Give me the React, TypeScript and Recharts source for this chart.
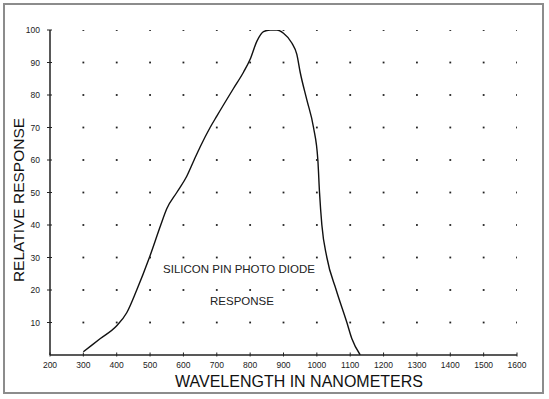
import React from 'react';
import { ComposedChart, Line, Scatter, XAxis, YAxis } from 'recharts';

const wavelengths = [300, 350, 400, 430, 460, 498, 532, 550, 580, 610, 632, 650, 680, 700, 750, 780, 800, 820, 840, 860, 880, 900, 925, 940, 950, 970, 990, 1003, 1008, 1015, 1030, 1058, 1090, 1105, 1130];
const response = [1, 5, 9, 13, 20, 30, 40, 45, 50, 55, 60, 64, 70, 73.5, 82, 87, 91, 96.5, 99.5, 100, 100, 99, 96, 92.5, 87, 78.5, 70, 60, 50, 40, 30, 20, 10, 5, 0];

const xTicks = [200, 300, 400, 500, 600, 700, 800, 900, 1000, 1100, 1200, 1300, 1400, 1500, 1600];
const yTicks = [10, 20, 30, 40, 50, 60, 70, 80, 90, 100];

const curve = wavelengths.map((x, i) => ({ x, y: response[i] }));
const gridDots = xTicks.filter((x) => x > 200).flatMap((x) => yTicks.map((y) => ({ x, y })));

const FONT = '"Liberation Sans", Arial, sans-serif';

const YTick = (props: any) => {
  const { x, y, payload } = props;
  return (
    <g>
      <line x1={x - 3} x2={x + 2} y1={y} y2={y} stroke="#222" strokeWidth={1} />
      <text x={x - 10} y={y} dy={3} textAnchor="end" fontSize={8.5} fontFamily={FONT} fill="#222">
        {payload.value}
      </text>
    </g>
  );
};

const XTick = (props: any) => {
  const { x, y, payload } = props;
  return (
    <g>
      <line x1={x} x2={x} y1={y - 2.5} y2={y + 1.5} stroke="#222" strokeWidth={1} />
      <text x={x} y={y + 12.5} textAnchor="middle" fontSize={8.5} fontFamily={FONT} fill="#222">
        {payload.value}
      </text>
    </g>
  );
};

const Dot = (props: any) => {
  const { cx, cy } = props;
  return <rect x={cx - 0.9} y={cy - 0.9} width={1.8} height={1.8} fill="#222" />;
};

export default function App() {
  return (
    <div style={{ position: 'absolute', left: 0, top: 0, width: 549, height: 399, background: '#fff' }}>
      <div
        style={{
          position: 'absolute',
          left: 3,
          top: 3,
          width: 537,
          height: 387,
          border: '2px solid #8c8c8c',
        }}
      />
      <ComposedChart
        width={549}
        height={399}
        margin={{ top: 30, right: 32, bottom: 14, left: 10 }}
        style={{ position: 'absolute', left: 0, top: 0 }}
      >
        <XAxis
          type="number"
          dataKey="x"
          domain={[200, 1600]}
          ticks={xTicks}
          height={30}
          tickSize={0}
          tickMargin={0}
          tick={<XTick />}
          axisLine={{ stroke: '#222', strokeWidth: 1.5 }}
          tickLine={false}
          interval={0}
          allowDataOverflow
        />
        <YAxis
          type="number"
          domain={[0, 100]}
          ticks={yTicks}
          width={40}
          tickSize={0}
          tickMargin={0}
          tick={<YTick />}
          axisLine={{ stroke: '#222', strokeWidth: 1.5 }}
          tickLine={false}
          interval={0}
          allowDataOverflow
        />
        <Scatter data={gridDots} dataKey="y" shape={<Dot />} isAnimationActive={false} />
        <Line
          data={curve}
          dataKey="y"
          type="monotone"
          stroke="#111"
          strokeWidth={1.4}
          dot={false}
          isAnimationActive={false}
        />
        <text x={239} y={273} textAnchor="middle" fontSize={11.5} fontFamily={FONT} fill="#222">
          SILICON PIN PHOTO DIODE
        </text>
        <text x={242} y={305} textAnchor="middle" fontSize={11.5} fontFamily={FONT} fill="#222">
          RESPONSE
        </text>
        <text x={299} y={386.5} textAnchor="middle" fontSize={16} fontFamily={FONT} fill="#111">
          WAVELENGTH IN NANOMETERS
        </text>
        <text
          x={23.5}
          y={200}
          textAnchor="middle"
          fontSize={15.5}
          fontFamily={FONT}
          fill="#111"
          transform="rotate(-90 23.5 200)"
        >
          RELATIVE RESPONSE
        </text>
      </ComposedChart>
    </div>
  );
}
